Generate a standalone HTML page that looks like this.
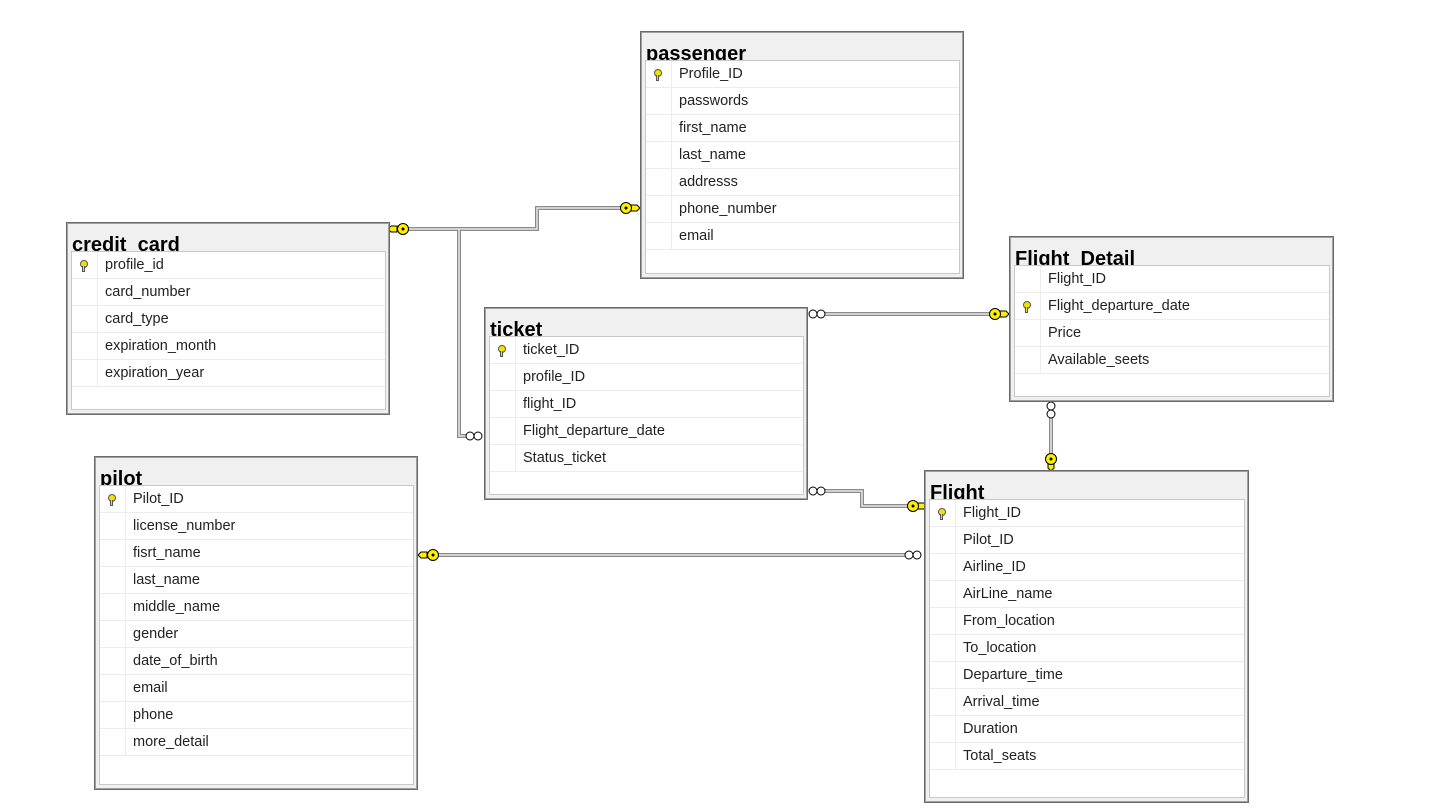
<!DOCTYPE html>
<html><head><meta charset="utf-8"><style>
body{margin:0;width:1431px;height:809px;background:#fff;position:relative;overflow:hidden;font-family:"Liberation Sans",sans-serif}
.t{position:absolute;background:#f0f0f0;border:1px solid #6a6a6a;box-shadow:inset 0 0 0 1px #a0a0a0;box-sizing:border-box;overflow:hidden}
.t .h{position:absolute;left:5px;top:9px;font-weight:bold;font-size:20px;color:#000;line-height:26px}
.t .g{position:absolute;left:4px;right:3px;top:28px;bottom:4px;background:#fff;border:1px solid #c8c8c8;z-index:2}
.r{height:26px;border-bottom:1px solid #ececec;position:relative;font-size:14.5px;color:#222;line-height:26px}
.r .k{position:absolute;left:0;top:0;width:25px;height:26px;border-right:1px solid #ececec}
.r span{position:absolute;left:33px}
.key{position:absolute;left:8px;top:8px;width:6px;height:6px;border-radius:50%;background:#f5e000;border:1px solid #555}
.key:after{content:"";position:absolute;left:1px;top:5px;width:3px;height:6px;background:#f5e000;border:1px solid #555;border-top:none;box-sizing:border-box}
</style></head><body>
<svg width="1431" height="809" style="position:absolute;left:0;top:0">
<g fill="none" stroke-linejoin="miter">
<g stroke="#8a8a8a" stroke-width="4">
<polyline points="400,229 537,229 537,208 625,208"/>
<polyline points="459,229 459,436 472,436"/>
<polyline points="820,314 994,314"/>
<polyline points="1051,412 1051,458"/>
<polyline points="820,491 862,491 862,506 912,506"/>
<polyline points="430,555 910,555"/>
</g>
<g stroke="#e8e8e8" stroke-width="1.5">
<polyline points="400,229 537,229 537,208 625,208"/>
<polyline points="459,229 459,436 472,436"/>
<polyline points="820,314 994,314"/>
<polyline points="1051,412 1051,458"/>
<polyline points="820,491 862,491 862,506 912,506"/>
<polyline points="430,555 910,555"/>
</g>
</g>
<g fill="#fff" stroke="#000" stroke-width="1">
<circle cx="470" cy="436" r="4"/><circle cx="478" cy="436" r="4"/>
<circle cx="813" cy="314" r="4"/><circle cx="821" cy="314" r="4"/>
<circle cx="813" cy="491" r="4"/><circle cx="821" cy="491" r="4"/>
<circle cx="1051" cy="406" r="4"/><circle cx="1051" cy="414" r="4"/>
<circle cx="909" cy="555" r="4"/><circle cx="917" cy="555" r="4"/>
</g>
<g fill="#ffee00" stroke="#000" stroke-width="1">
<path d="M397,226 h-6 l-3,3 3,3 h6z"/><circle cx="403" cy="229" r="5.5"/>
<path d="M630,205 h7 l3,3 -3,3 h-7z"/><circle cx="626" cy="208" r="5.5"/>
<path d="M999,311 h7 l3,3 -3,3 h-7z"/><circle cx="995" cy="314" r="5.5"/>
<path d="M917,503 h7 l3,3 -3,3 h-7z"/><circle cx="913" cy="506" r="5.5"/>
<path d="M427,552 h-6 l-3,3 3,3 h6z"/><circle cx="433" cy="555" r="5.5"/>
<path d="M1048,462 v6 l3,3 3,-3 v-6z"/><circle cx="1051" cy="459" r="5.5"/>
</g>
<g fill="#000"><circle cx="403" cy="229" r="1.5"/><circle cx="626" cy="208" r="1.5"/><circle cx="995" cy="314" r="1.5"/><circle cx="913" cy="506" r="1.5"/><circle cx="433" cy="555" r="1.5"/><circle cx="1051" cy="459" r="1.5"/></g>
</svg>

<div class="t" style="left:640px;top:31px;width:324px;height:248px"><div class="h">passenger</div><div class="g">
<div class="r"><div class="k"><div class="key"></div></div><span>Profile_ID</span></div>
<div class="r"><div class="k"></div><span>passwords</span></div>
<div class="r"><div class="k"></div><span>first_name</span></div>
<div class="r"><div class="k"></div><span>last_name</span></div>
<div class="r"><div class="k"></div><span>addresss</span></div>
<div class="r"><div class="k"></div><span>phone_number</span></div>
<div class="r"><div class="k"></div><span>email</span></div>
</div></div>

<div class="t" style="left:66px;top:222px;width:324px;height:193px"><div class="h">credit_card</div><div class="g">
<div class="r"><div class="k"><div class="key"></div></div><span>profile_id</span></div>
<div class="r"><div class="k"></div><span>card_number</span></div>
<div class="r"><div class="k"></div><span>card_type</span></div>
<div class="r"><div class="k"></div><span>expiration_month</span></div>
<div class="r"><div class="k"></div><span>expiration_year</span></div>
</div></div>

<div class="t" style="left:484px;top:307px;width:324px;height:193px"><div class="h">ticket</div><div class="g">
<div class="r"><div class="k"><div class="key"></div></div><span>ticket_ID</span></div>
<div class="r"><div class="k"></div><span>profile_ID</span></div>
<div class="r"><div class="k"></div><span>flight_ID</span></div>
<div class="r"><div class="k"></div><span>Flight_departure_date</span></div>
<div class="r"><div class="k"></div><span>Status_ticket</span></div>
</div></div>

<div class="t" style="left:1009px;top:236px;width:325px;height:166px"><div class="h">Flight_Detail</div><div class="g">
<div class="r"><div class="k"></div><span>Flight_ID</span></div>
<div class="r"><div class="k"><div class="key"></div></div><span>Flight_departure_date</span></div>
<div class="r"><div class="k"></div><span>Price</span></div>
<div class="r"><div class="k"></div><span>Available_seets</span></div>
</div></div>

<div class="t" style="left:94px;top:456px;width:324px;height:334px"><div class="h">pilot</div><div class="g">
<div class="r"><div class="k"><div class="key"></div></div><span>Pilot_ID</span></div>
<div class="r"><div class="k"></div><span>license_number</span></div>
<div class="r"><div class="k"></div><span>fisrt_name</span></div>
<div class="r"><div class="k"></div><span>last_name</span></div>
<div class="r"><div class="k"></div><span>middle_name</span></div>
<div class="r"><div class="k"></div><span>gender</span></div>
<div class="r"><div class="k"></div><span>date_of_birth</span></div>
<div class="r"><div class="k"></div><span>email</span></div>
<div class="r"><div class="k"></div><span>phone</span></div>
<div class="r"><div class="k"></div><span>more_detail</span></div>
</div></div>

<div class="t" style="left:924px;top:470px;width:325px;height:333px"><div class="h">Flight</div><div class="g">
<div class="r"><div class="k"><div class="key"></div></div><span>Flight_ID</span></div>
<div class="r"><div class="k"></div><span>Pilot_ID</span></div>
<div class="r"><div class="k"></div><span>Airline_ID</span></div>
<div class="r"><div class="k"></div><span>AirLine_name</span></div>
<div class="r"><div class="k"></div><span>From_location</span></div>
<div class="r"><div class="k"></div><span>To_location</span></div>
<div class="r"><div class="k"></div><span>Departure_time</span></div>
<div class="r"><div class="k"></div><span>Arrival_time</span></div>
<div class="r"><div class="k"></div><span>Duration</span></div>
<div class="r"><div class="k"></div><span>Total_seats</span></div>
</div></div>
</body></html>
